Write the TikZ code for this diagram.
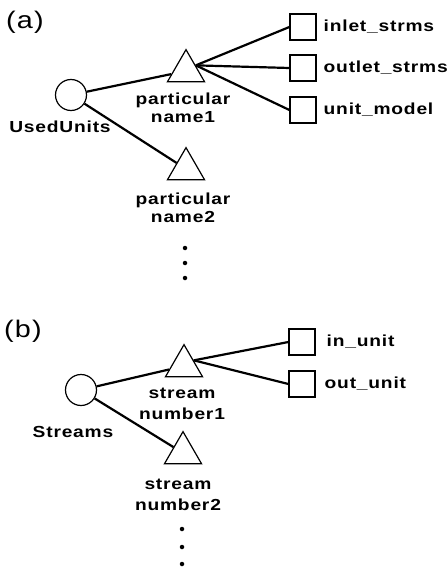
\documentclass[tikz,border=0pt]{standalone}
\usepackage{fontspec}
\setmainfont{Liberation Sans}[FakeStretch=1.2,LetterSpace=5]
\usetikzlibrary{shapes.geometric,positioning}

\begin{document}
\begin{tikzpicture}[x=1pt,y=-1pt,line width=2.2pt,
    root node/.style={circle,draw,line width=1.2pt,minimum size=31pt,inner sep=0pt},
    name node/.style={regular polygon,regular polygon sides=3,draw,line width=1.2pt,
        minimum size=42.7pt,inner sep=0pt},
    attr node/.style={rectangle,draw,line width=1.2pt,minimum size=26pt,inner sep=0pt},
    txt/.style={font=\fontsize{16}{18}\selectfont\bfseries,inner sep=0pt,align=center},
    part/.style={font=\fontsize{24}{26}\selectfont,inner sep=0pt},
    dot/.style={circle,fill,inner sep=0pt,minimum size=4.5pt}]

    \useasboundingbox (0,0) rectangle (447,569);

    % (a) used units
    \node[part] at (25,22) {(a)};
    \node[root node] (u) at (71,95) {};
    \node[txt] at (60,127) {UsedUnits};
    \node[name node] (p1) at (186,71) {};
    \node[txt] at (183,108) {particular\\name1};
    \node[name node] (p2) at (186,169) {};
    \node[txt] at (183,208) {particular\\name2};
    \foreach \y in {248,263,278}
        \node[dot] at (185,\y) {};
    \node[attr node] (i1) at (303,27) {};
    \node[attr node] (i2) at (303,68) {};
    \node[attr node] (i3) at (303,110) {};
    \node[txt,right=6pt of i1] {inlet\_strms};
    \node[txt,right=6pt of i2] {outlet\_strms};
    \node[txt,right=6pt of i3] {unit\_model};

    \path (u) edge (p1)
          (u) edge (p2)
          (p1.side 3) edge (i1.west)
          (p1.side 3) edge (i2.west)
          (p1.side 3) edge (i3.west);

    % (b) streams
    \node[part] at (23,331) {(b)};
    \node[root node] (s) at (81,390) {};
    \node[txt] at (73,432) {Streams};
    \node[name node] (n1) at (184,366) {};
    \node[txt,font=\fontsize{16}{21}\selectfont\bfseries] at (182,404) {stream\\number1};
    \node[name node] (n2) at (183,453) {};
    \node[txt,font=\fontsize{16}{21}\selectfont\bfseries] at (178,495) {stream\\number2};
    \foreach \y in {529,547,564}
        \node[dot] at (182,\y) {};
    \node[attr node] (o1) at (302,342) {};
    \node[attr node] (o2) at (302,384) {};
    \node[txt,right=10pt of o1] {in\_unit};
    \node[txt,right=8pt of o2] {out\_unit};

    \path (s) edge (n1)
          (s) edge (n2)
          (n1.side 3) edge (o1.west)
          (n1.side 3) edge (o2.west);
\end{tikzpicture}
\end{document}
